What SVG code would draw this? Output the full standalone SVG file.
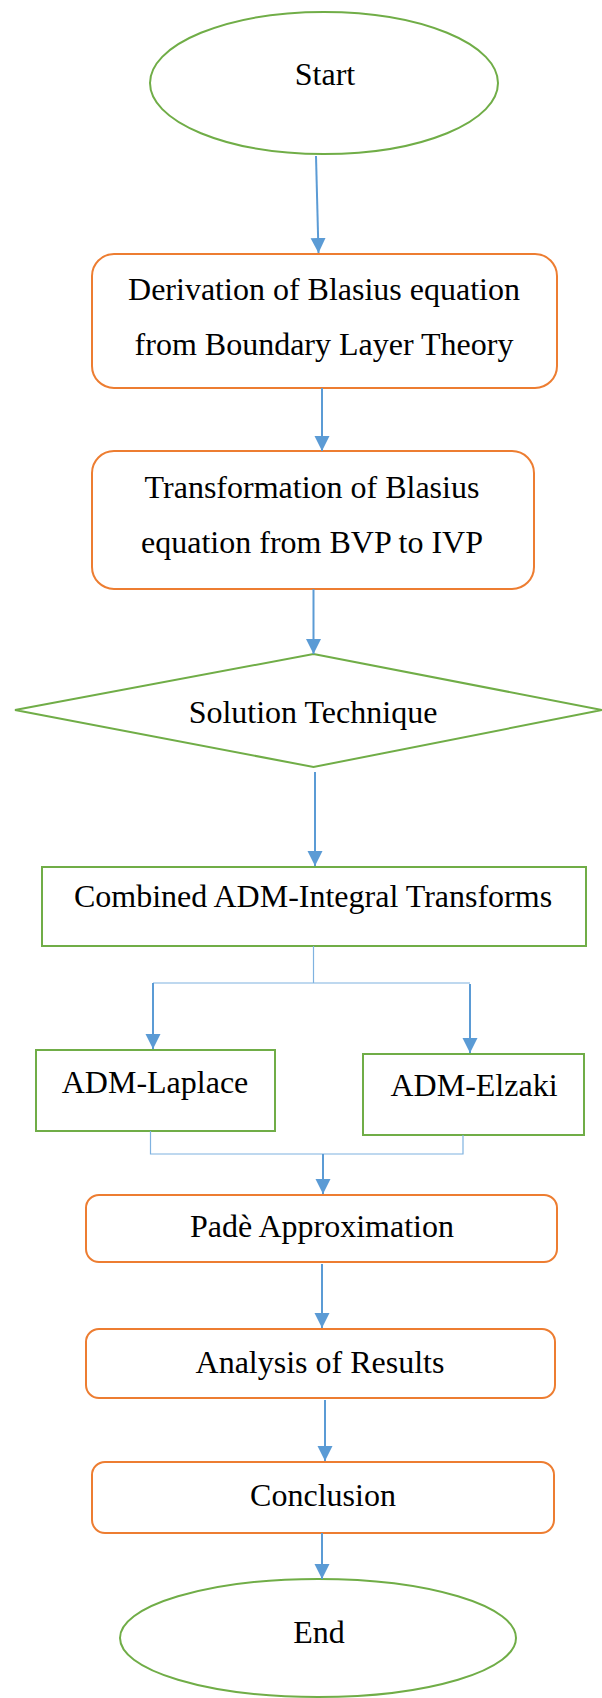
<svg xmlns="http://www.w3.org/2000/svg" width="602" height="1698" viewBox="0 0 602 1698">
<defs>
<style>
.t{font-family:"Liberation Serif","Times New Roman",serif;font-size:32px;fill:#000;text-anchor:middle}
.g{fill:#fff;stroke:#70AD47;stroke-width:2}
.o{fill:#fff;stroke:#ED7D31;stroke-width:2}
.c{fill:none;stroke:#5B9BD5;stroke-width:2}
.thin{fill:none;stroke:#7FB2E0;stroke-width:1.2}
</style>
<marker id="ah" markerUnits="userSpaceOnUse" markerWidth="16" markerHeight="16" refX="15" refY="7.5" orient="auto">
<path d="M0,0 L15,7.5 L0,15 z" fill="#5B9BD5"/>
</marker>
</defs>
<rect width="602" height="1698" fill="#fff"/>
<g id="start"><ellipse class="g" cx="324" cy="83" rx="174" ry="71"/><text class="t" x="325" y="85">Start</text></g>
<g id="derivation"><rect class="o" x="92" y="254" width="465" height="134" rx="22"/><text class="t" x="324" y="300">Derivation of Blasius equation</text><text class="t" x="324" y="355">from Boundary Layer Theory</text></g>
<g id="transformation"><rect class="o" x="92" y="451" width="442" height="138" rx="22"/><text class="t" x="312" y="498">Transformation of Blasius</text><text class="t" x="312" y="553">equation from BVP to IVP</text></g>
<g id="solution"><polygon class="g" points="313.5,654 602,710 313.5,767 15,710"/><text class="t" x="313" y="723">Solution Technique</text></g>
<g id="combined"><rect class="g" x="42" y="867" width="544" height="79"/><text class="t" x="313" y="907">Combined ADM-Integral Transforms</text></g>
<g id="laplace"><rect class="g" x="36" y="1050" width="239" height="81"/><text class="t" x="155" y="1093">ADM-Laplace</text></g>
<g id="elzaki"><rect class="g" x="363" y="1054" width="221" height="81"/><text class="t" x="474" y="1096">ADM-Elzaki</text></g>
<g id="pade"><rect class="o" x="86" y="1195" width="471" height="67" rx="13"/><text class="t" x="322" y="1237">Padè Approximation</text></g>
<g id="analysis"><rect class="o" x="86" y="1329" width="469" height="69" rx="13"/><text class="t" x="320" y="1373">Analysis of Results</text></g>
<g id="conclusion"><rect class="o" x="92" y="1462" width="462" height="71" rx="13"/><text class="t" x="323" y="1506">Conclusion</text></g>
<g id="end"><ellipse class="g" cx="318" cy="1638" rx="198" ry="59"/><text class="t" x="319" y="1643">End</text></g>
<g id="connectors">
<line class="c" x1="316" y1="156" x2="318.5" y2="253" marker-end="url(#ah)"/>
<line class="c" x1="322" y1="388" x2="322" y2="451" marker-end="url(#ah)"/>
<line class="c" x1="313.5" y1="589" x2="313.5" y2="654" marker-end="url(#ah)"/>
<line class="c" x1="315" y1="772" x2="315" y2="866" marker-end="url(#ah)"/>
<polyline class="thin" points="313.5,946 313.5,983"/>
<polyline class="thin" points="153,983 470,983"/>
<line class="c" x1="153" y1="983" x2="153" y2="1049" marker-end="url(#ah)"/>
<line class="c" x1="470" y1="984" x2="470" y2="1053" marker-end="url(#ah)"/>
<polyline class="thin" points="150.5,1131 150.5,1154 463,1154 463,1135"/>
<line class="c" x1="323" y1="1154" x2="323" y2="1194" marker-end="url(#ah)"/>
<line class="c" x1="322" y1="1264" x2="322" y2="1328" marker-end="url(#ah)"/>
<line class="c" x1="325" y1="1400" x2="325" y2="1461" marker-end="url(#ah)"/>
<line class="c" x1="322" y1="1533" x2="322" y2="1579" marker-end="url(#ah)"/>
</g>
</svg>
